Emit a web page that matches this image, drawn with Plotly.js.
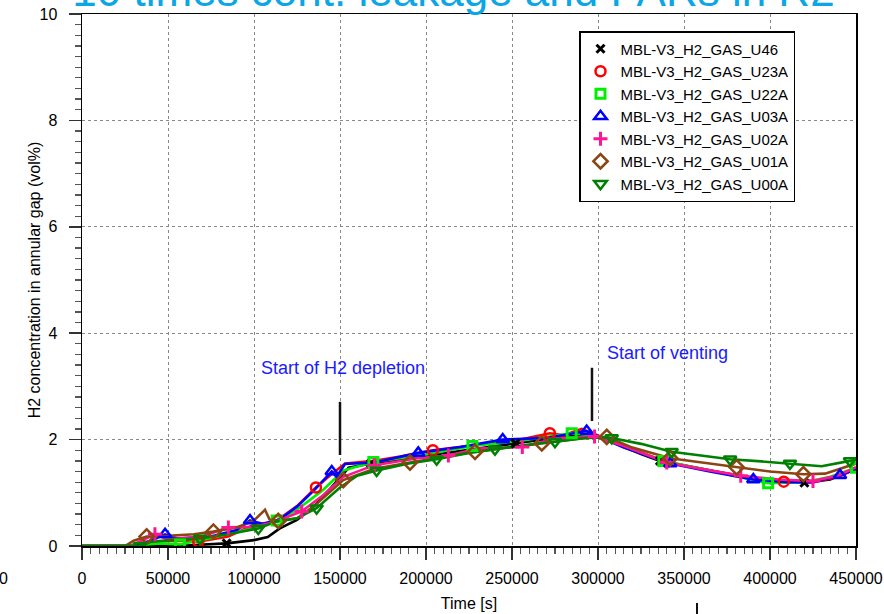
<!DOCTYPE html>
<html>
<head>
<meta charset="utf-8">
<script src="https://cdn.plot.ly/plotly-3.0.1.min.js"></script>
<style>html,body{margin:0;padding:0;background:#fff;}#chart{width:884px;height:614px;}</style>
</head>
<body>
<div id="chart"></div>
<script>
// ---- Data ----
const seriesNames = ["MBL-V3_H2_GAS_U46","MBL-V3_H2_GAS_U23A","MBL-V3_H2_GAS_U22A","MBL-V3_H2_GAS_U03A","MBL-V3_H2_GAS_U02A","MBL-V3_H2_GAS_U01A","MBL-V3_H2_GAS_U00A"];

const u46_x = [0, 30000, 60000, 84100, 100000, 108000, 115000, 125000, 135000, 145000, 155000, 168000, 200000, 230000, 252000, 280000, 296000, 310000, 325000, 336000, 360000, 380000, 400000, 420000, 435000, 450000];
const u46_y = [0, 0, 0.01, 0.05, 0.11, 0.17, 0.33, 0.49, 0.75, 1.10, 1.47, 1.55, 1.70, 1.84, 1.93, 2.05, 2.10, 1.93, 1.73, 1.60, 1.45, 1.33, 1.24, 1.19, 1.25, 1.45];
const u46_mk = [3, 11, 14, 19, 23];

const u23a_x = [0, 28000, 40000, 55000, 67600, 85000, 100000, 112000, 125000, 136000, 145000, 153000, 170000, 185000, 204000, 230000, 255000, 272000, 280000, 290500, 300000, 315000, 340000, 365000, 390000, 408000, 425000, 440000, 450000];
const u23a_y = [0, 0, 0.08, 0.10, 0.08, 0.18, 0.40, 0.45, 0.75, 1.10, 1.35, 1.55, 1.60, 1.68, 1.80, 1.90, 2.00, 2.12, 2.08, 2.20, 2.08, 1.88, 1.58, 1.42, 1.28, 1.21, 1.20, 1.30, 1.45];
const u23a_mk = [4, 9, 14, 17, 22, 25];

const u22a_x = [0, 28000, 45000, 57000, 75000, 95000, 105000, 113200, 125000, 140000, 152000, 169400, 200000, 227000, 255000, 284700, 298000, 315000, 338000, 365000, 385000, 398900, 420000, 435000, 450000];
const u22a_y = [0, 0, 0.05, 0.03, 0.15, 0.30, 0.40, 0.48, 0.68, 1.05, 1.42, 1.58, 1.72, 1.88, 1.98, 2.12, 2.08, 1.88, 1.60, 1.42, 1.28, 1.18, 1.20, 1.30, 1.47];
const u22a_mk = [3, 7, 11, 13, 15, 18, 21, 24];

const u03a_x = [0, 28000, 40000, 48300, 55000, 75000, 90000, 97700, 105000, 115000, 125000, 135000, 145200, 148000, 152900, 170000, 195500, 220000, 244600, 270000, 293400, 300000, 315000, 342000, 365000, 390300, 410000, 425000, 440700, 450000];
const u03a_y = [0, 0, 0.10, 0.22, 0.14, 0.18, 0.30, 0.48, 0.42, 0.50, 0.74, 1.05, 1.40, 1.30, 1.54, 1.57, 1.75, 1.86, 2.00, 2.03, 2.16, 2.06, 1.85, 1.55, 1.40, 1.25, 1.20, 1.20, 1.33, 1.45];
const u03a_mk = [3, 7, 12, 16, 18, 20, 23, 25, 28];

const u02a_x = [0, 28000, 42400, 50000, 70000, 85100, 100000, 112000, 127700, 140000, 152000, 170000, 195000, 213000, 230000, 256000, 275000, 298000, 315000, 340000, 360000, 383000, 405000, 425000, 440000, 450000];
const u02a_y = [0, 0, 0.22, 0.12, 0.18, 0.35, 0.36, 0.45, 0.65, 0.95, 1.30, 1.52, 1.65, 1.70, 1.83, 1.86, 2.02, 2.06, 1.88, 1.57, 1.45, 1.32, 1.25, 1.22, 1.33, 1.48];
const u02a_mk = [2, 5, 8, 11, 13, 15, 17, 19, 21, 23];

const u01a_x = [0, 25000, 30000, 37600, 50000, 65000, 76400, 90000, 100000, 106400, 109000, 114100, 125000, 135000, 151900, 170000, 190700, 210000, 228500, 250000, 267300, 290000, 305100, 320000, 342000, 360000, 380600, 400000, 419400, 432000, 450000];
const u01a_y = [0, 0, 0.10, 0.18, 0.19, 0.22, 0.27, 0.35, 0.48, 0.68, 0.50, 0.47, 0.52, 0.75, 1.24, 1.45, 1.57, 1.67, 1.77, 1.86, 1.93, 2.02, 2.05, 1.85, 1.65, 1.57, 1.48, 1.40, 1.35, 1.36, 1.55];
const u01a_mk = [3, 6, 11, 14, 16, 18, 20, 22, 24, 26, 28];

const u00a_x = [0, 28000, 33700, 40000, 55000, 68600, 85000, 102500, 112000, 125000, 136400, 150000, 160000, 171300, 190000, 206200, 225000, 240100, 258000, 275000, 295000, 308000, 325000, 342800, 360000, 376800, 395000, 411600, 430000, 446500, 450000];
const u00a_y = [0, 0, 0.00, 0.08, 0.12, 0.14, 0.22, 0.33, 0.45, 0.52, 0.71, 1.10, 1.32, 1.42, 1.55, 1.63, 1.75, 1.82, 1.90, 1.96, 2.04, 2.03, 1.92, 1.77, 1.70, 1.63, 1.59, 1.55, 1.50, 1.60, 1.62];
const u00a_mk = [2, 5, 7, 10, 13, 15, 17, 19, 21, 23, 25, 27, 29];

const xTickVals = [0, 50000, 100000, 150000, 200000, 250000, 300000, 350000, 400000, 450000];
const xTickText = ["0", "50000", "100000", "150000", "200000", "250000", "300000", "350000", "400000", "450000"];
const yTickVals = [0, 2, 4, 6, 8, 10];
const yTickText = ["0", "2", "4", "6", "8", "10"];

const titleText = "10 times cont. leakage and PARs in R2";
const depletionText = "Start of H2 depletion";
const ventingText = "Start of venting";
const depletionMark = {x: 150000, y0: 1.71, y1: 2.71, tx: 103000, ty: 3.35};
const ventingMark = {x: 296500, y0: 2.35, y1: 3.35, tx: 304000, ty: 3.63};

// ---- Styles ----
const styles = [
  {color: '#000000', symbol: 'x-thin-open', size: 8, lw: 3},
  {color: '#ff0000', symbol: 'circle-open', size: 10, lw: 2.5},
  {color: '#00ee00', symbol: 'square-open', size: 9, lw: 3},
  {color: '#0000ff', symbol: 'triangle-up-open', size: 11, lw: 2.5},
  {color: '#ff1493', symbol: 'cross-thin-open', size: 10, lw: 3},
  {color: '#8b4513', symbol: 'diamond-open', size: 11, lw: 2.5},
  {color: '#008000', symbol: 'triangle-down-open', size: 11, lw: 2.5}
];
const series = [
  [u46_x, u46_y, u46_mk], [u23a_x, u23a_y, u23a_mk], [u22a_x, u22a_y, u22a_mk],
  [u03a_x, u03a_y, u03a_mk], [u02a_x, u02a_y, u02a_mk], [u01a_x, u01a_y, u01a_mk],
  [u00a_x, u00a_y, u00a_mk]
];

const traces = [];
series.forEach((s, i) => {
  const st = styles[i];
  traces.push({
    x: s[0], y: s[1], type: 'scatter', mode: 'lines',
    line: {color: st.color, width: 2.6}, showlegend: false, hoverinfo: 'skip'
  });
});
series.forEach((s, i) => {
  const st = styles[i];
  traces.push({
    x: s[2].map(k => s[0][k]), y: s[2].map(k => s[1][k]),
    type: 'scatter', mode: 'markers', name: seriesNames[i],
    marker: {symbol: st.symbol, size: st.size, color: st.color, line: {color: st.color, width: st.lw}}
  });
});

const FF = 'Liberation Sans, Arial, sans-serif';
const font = {family: FF, size: 16, color: '#000'};

const layout = {
  width: 884, height: 614,
  margin: {l: 82, r: 28, t: 14, b: 68},
  paper_bgcolor: '#fff', plot_bgcolor: '#fff',
  font: font,
  title: {text: titleText, font: {family: FF, size: 44, color: '#0aa6e6'},
          x: 0.513, xanchor: 'center', xref: 'container', y: 1 - 6/614, yanchor: 'bottom', yref: 'container'},
  showlegend: true,
  legend: {x: (579 - 82) / 774, xanchor: 'left', y: (546 - 31) / 532, yanchor: 'top',
           bgcolor: '#fff', bordercolor: '#000', borderwidth: 1.5,
           font: {family: FF, size: 15, color: '#000'}},
  xaxis: {
    range: [0, 450000], tickvals: xTickVals, ticktext: xTickText,
    ticks: 'outside', ticklen: 12, tickwidth: 1.5, tickcolor: '#333',
    ticklabelstandoff: 5,
    showline: true, linecolor: '#000', linewidth: 1.5, mirror: true,
    showgrid: true, gridcolor: '#888', griddash: 'dot', gridwidth: 1,
    zeroline: false,
    minor: {dtick: 5000, tick0: 0, ticks: 'outside', ticklen: 6, tickwidth: 1.3, tickcolor: '#555', showgrid: false},
    title: {text: 'Time [s]', font: {size: 16}, standoff: 12},
    tickfont: {size: 16}
  },
  yaxis: {
    range: [0, 10], tickvals: yTickVals, ticktext: yTickText,
    ticks: 'outside', ticklen: 12, tickwidth: 1.5, tickcolor: '#333',
    ticklabelstandoff: 8,
    showline: true, linecolor: '#000', linewidth: 1.5, mirror: true,
    showgrid: true, gridcolor: '#888', griddash: 'dot', gridwidth: 1,
    zeroline: false,
    minor: {dtick: 0.2, tick0: 0, ticks: 'outside', ticklen: 6, tickwidth: 1.3, tickcolor: '#555', showgrid: false},
    title: {text: 'H2 concentration in annular gap (vol%)', font: {size: 16}},
    tickfont: {size: 16}
  },
  shapes: [
    {type: 'line', xref: 'x', yref: 'y', x0: depletionMark.x, x1: depletionMark.x, y0: depletionMark.y0, y1: depletionMark.y1, line: {color: '#111', width: 2.5}},
    {type: 'line', xref: 'x', yref: 'y', x0: ventingMark.x, x1: ventingMark.x, y0: ventingMark.y0, y1: ventingMark.y1, line: {color: '#111', width: 2.5}},
    {type: 'line', xref: 'paper', yref: 'paper', x0: (697 - 82) / 774, x1: (697 - 82) / 774, y0: (546 - 603) / 532, y1: (546 - 614) / 532, line: {color: '#111', width: 2}}
  ],
  annotations: [
    {text: depletionText, x: depletionMark.tx, y: depletionMark.ty, xref: 'x', yref: 'y', xanchor: 'left', yanchor: 'middle', showarrow: false,
     font: {family: FF, size: 18, color: '#1a1aff'}},
    {text: ventingText, x: ventingMark.tx, y: ventingMark.ty, xref: 'x', yref: 'y', xanchor: 'left', yanchor: 'middle', showarrow: false,
     font: {family: FF, size: 18, color: '#1a1aff'}},
    {text: '0', xref: 'paper', yref: 'paper', x: (3 - 82) / 774, y: (546 - 578) / 532, xanchor: 'center', yanchor: 'middle', showarrow: false,
     font: {family: FF, size: 16, color: '#000'}}
  ]
};

Plotly.newPlot('chart', traces, layout, {displayModeBar: false, staticPlot: true});
</script>
</body>
</html>
